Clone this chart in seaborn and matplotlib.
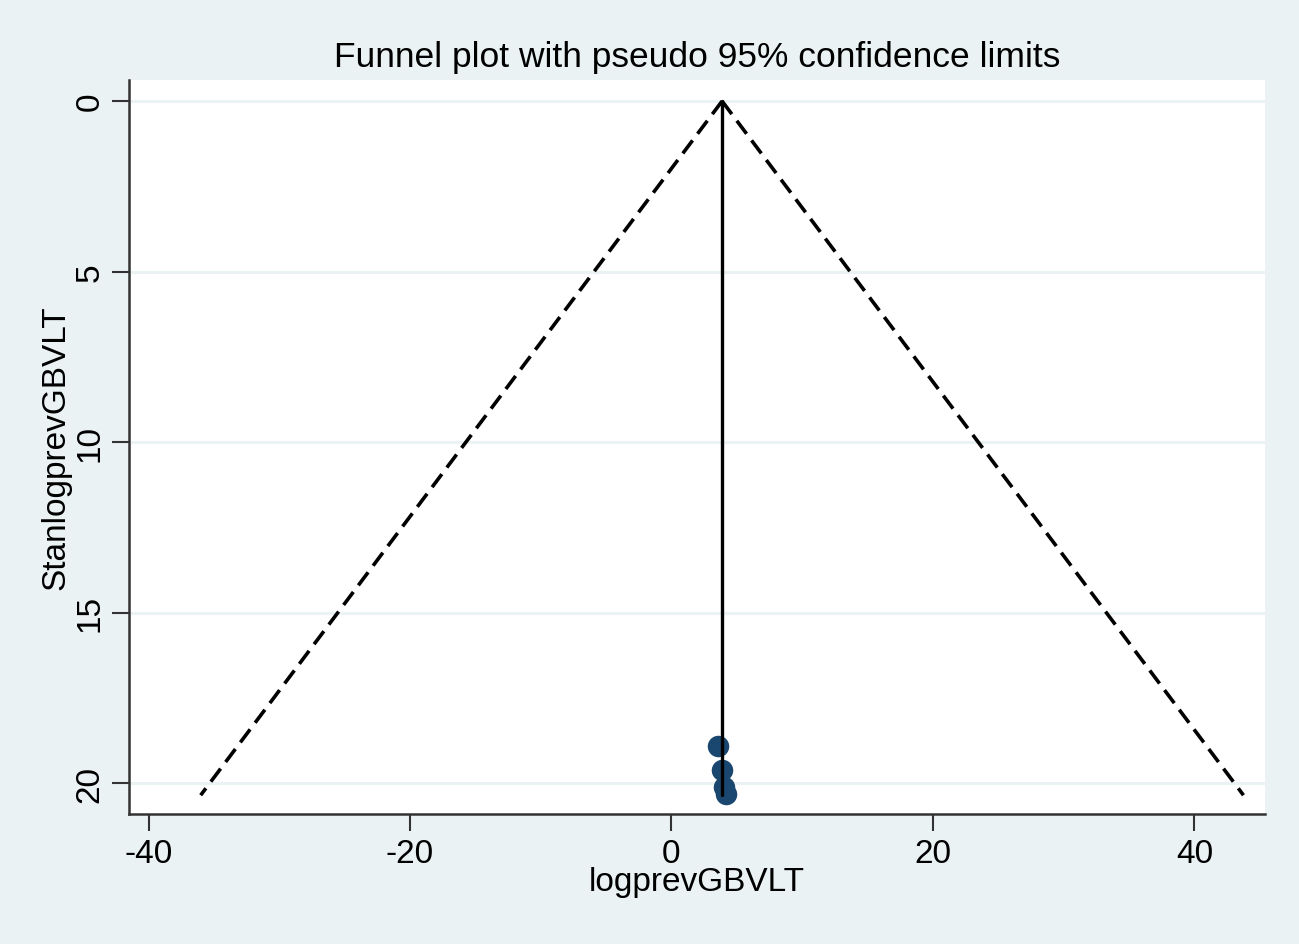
import numpy as np
import pandas as pd
import matplotlib
matplotlib.use("Agg")
import matplotlib.pyplot as plt
import seaborn as sns

# Datos (funnel plot de Stata)
efecto = [3.55, 3.85, 4.05, 4.15]        # logprevGBVLT
error_est = [18.9, 19.6, 20.1, 20.3]     # StanlogprevGBVLT
media = 3.87
se_max = 20.35

df = pd.DataFrame({"logprevGBVLT": efecto, "StanlogprevGBVLT": error_est})

# Limites pseudo 95%
se_lim = np.array([0, se_max])
lim_inf = media - 1.96 * se_lim
lim_sup = media + 1.96 * se_lim

fondo = "#eaf2f3"
sns.set_theme(style="white")
plt.rcParams["font.family"] = ["Liberation Sans", "DejaVu Sans"]
plt.rcParams["axes.unicode_minus"] = False
plt.rcParams["text.color"] = "black"
plt.rcParams["axes.labelcolor"] = "black"
plt.rcParams["xtick.color"] = "black"
plt.rcParams["ytick.color"] = "black"

fig = plt.figure(figsize=(12.99, 9.45), dpi=100, facecolor=fondo)
ax = fig.add_axes([0.0993, 0.1376, 0.8745, 0.7767])
ax.set_facecolor("white")

for y in [0, 5, 10, 15, 20]:
    ax.axhline(y, color=fondo, linewidth=2.2, zorder=0)

ax.plot(lim_inf, se_lim, color="black", linestyle=(0, (4.5, 2.3)), linewidth=2.6)
ax.plot(lim_sup, se_lim, color="black", linestyle=(0, (4.5, 2.3)), linewidth=2.6)

sns.scatterplot(x="logprevGBVLT", y="StanlogprevGBVLT", data=df,
                color="#1a476f", s=240, edgecolor="#1a476f", linewidth=0,
                ax=ax, zorder=3)
ax.plot([media, media], [0, se_max], color="black", linewidth=2.4, zorder=4)

ax.set_xlim(-41.5, 45.4)
ax.set_ylim(20.9, -0.62)
ax.set_xticks([-40, -20, 0, 20, 40])
ax.set_yticks([0, 5, 10, 15, 20])

for lado in ["top", "right"]:
    ax.spines[lado].set_visible(False)
for lado in ["left", "bottom"]:
    ax.spines[lado].set_color("#333333")
    ax.spines[lado].set_linewidth(1.8)

ax.tick_params(axis="both", direction="out", length=12, width=1.5,
               color="#333333", labelsize=24, left=True, bottom=True, pad=5)
plt.setp(ax.get_yticklabels(), rotation=90, va="center")

ax.set_xlabel("logprevGBVLT", fontsize=24, labelpad=-2)
ax.set_ylabel("StanlogprevGBVLT", fontsize=24, labelpad=2)
ax.set_title("Funnel plot with pseudo 95% confidence limits", fontsize=25.5, pad=10)

fig.savefig("out.png", dpi=100, facecolor=fondo)
